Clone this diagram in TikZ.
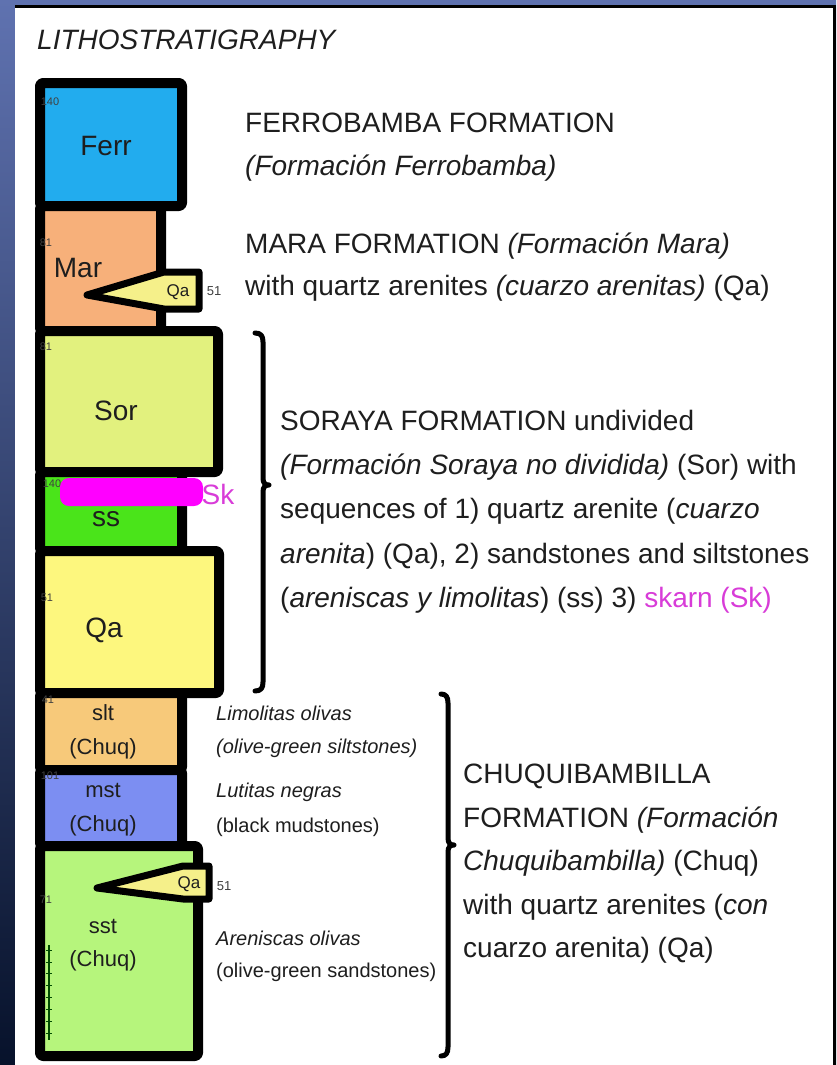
\documentclass[tikz,border=0pt]{standalone}
\usepackage{fontspec}
\setmainfont{Liberation Sans}
\definecolor{bgtop}{HTML}{5F72B0}
\definecolor{bgmid}{HTML}{143A8C}
\definecolor{bgbot}{HTML}{07122B}
\definecolor{txt}{HTML}{1E1E1E}
\definecolor{cferr}{HTML}{22ACEE}
\definecolor{cmar}{HTML}{F7B07A}
\definecolor{csor}{HTML}{E2F17E}
\definecolor{css}{HTML}{4AE41A}
\definecolor{cqa}{HTML}{FDF77E}
\definecolor{cslt}{HTML}{F7C97A}
\definecolor{cmst}{HTML}{7C8EF2}
\definecolor{csst}{HTML}{B6F57C}
\definecolor{cwedge}{HTML}{F5F08A}
\definecolor{cmag}{HTML}{FF00FF}
\definecolor{cmagtxt}{HTML}{D83CD8}
\begin{document}
\begin{tikzpicture}[x=1pt,y=-1pt,
  layer/.style={draw=black, line width=10pt, rounded corners=3pt, line join=round},
  wedge/.style={draw=black, line width=7pt, line join=round, fill=cwedge},
  brace/.style={draw=black, line width=5pt, line cap=round, line join=round},
  big/.style={font=\fontsize{28}{32}\selectfont, text=txt, inner sep=0pt, anchor=base west},
  small/.style={font=\fontsize{20}{24}\selectfont, text=txt, inner sep=0pt, anchor=base west},
  lbl/.style={font=\fontsize{28}{32}\selectfont, text=txt, inner sep=0pt},
  lbls/.style={font=\fontsize{22}{26}\selectfont, text=txt, inner sep=0pt},
  num/.style={font=\fontsize{11}{12}\selectfont, text=txt!85, inner sep=0pt}]
\useasboundingbox (0,0) rectangle (836,1065);
% background
\shade[top color=bgtop, middle color=bgmid, bottom color=bgbot] (0,0) rectangle (836,1065);
\fill[white] (15,8) rectangle (833,1065);
\draw[black, line width=3pt] (15,6.5) -- (834.5,6.5) -- (834.5,1065);

% title
\node[big, font=\fontsize{28}{32}\selectfont\itshape] (title) at (37,49) {LITHOSTRATIGRAPHY};

% column
\draw[layer, fill=cferr] (40,83) rectangle (182,206);
\draw[layer, fill=cmar] (40,206) rectangle (161,331);
\draw[layer, fill=csor] (40,331) rectangle (218,472);
\draw[layer, fill=css] (40,472) rectangle (182,551);
\draw[layer, fill=cqa] (40,551) rectangle (219,693);
\draw[layer, fill=cslt] (40,693) rectangle (182,770);
\draw[layer, fill=cmst] (40,770) rectangle (182,846);
\draw[layer, fill=csst] (40,846) rectangle (198,1056);

% wedges
\draw[wedge] (87,295) -- (164,272) -- (199,272) -- (199,309) -- (164,309) -- cycle;
\draw[wedge] (97,888) -- (183,866) -- (209,866) -- (209,899) -- (183,899) -- cycle;

% small numbers
\node[num] (n1) at (50,102) {140};
\node[num] (n2) at (46,243) {81};
\node[num] (n3) at (46,347) {81};
\node[num] (n4) at (52,484) {140};
\node[num] (n5) at (47,598) {51};
\node[num] (n6) at (48,700) {41};
\node[num] (n7) at (50,776) {101};
\node[num] (n8) at (46,900) {71};
\node[num, font=\fontsize{13}{14}\selectfont] (n9) at (214,291) {51};
\node[num, font=\fontsize{13}{14}\selectfont] (n10) at (224,886) {51};

% scale marks in sst
\draw[black!70!green, line width=1.2pt] (49,945) -- (49,1040);
\foreach \yy in {950,962,973,985,997,1009,1021,1033}
  \draw[black!70!green, line width=1pt] (46,\yy) -- (52,\yy);

% skarn bar
\fill[cmag, rounded corners=9pt] (60,478) rectangle (203,506);
\node[lbl, text=cmagtxt] (sk) at (218,494) {Sk};

% box labels
\node[lbl] (ferr) at (106,146) {Ferr};
\node[lbl] (mar) at (78,268) {Mar};
\node[font=\fontsize{17}{18}\selectfont, text=txt, inner sep=0pt] (qa1) at (178,292) {Qa};
\node[lbl] (sor) at (116,411) {Sor};
\node[lbl] (ss) at (106,519) {ss};
\node[lbl] (qa) at (104,630) {Qa};
\node[lbls] (slt) at (103,713) {slt};
\node[lbls] (sltc) at (103,749) {(Chuq)};
\node[lbls] (mst) at (103,790) {mst};
\node[lbls] (mstc) at (103,826) {(Chuq)};
\node[font=\fontsize{17}{18}\selectfont, text=txt, inner sep=0pt] (qa2) at (189,884) {Qa};
\node[lbls] (sst) at (103,926) {sst};
\node[lbls] (sstc) at (103,961) {(Chuq)};

% Ferrobamba text
\node[big] (f1) at (245,132) {FERROBAMBA FORMATION};
\node[big] (f2) at (245,175) {\itshape (Formación Ferrobamba)};
% Mara text
\node[big] (m1) at (245,253) {MARA FORMATION \textit{(Formación Mara)}};
\node[big] (m2) at (245,295) {with quartz arenites \textit{(cuarzo arenitas)} (Qa)};
% Soraya text
\node[big] (s1) at (280,430) {SORAYA FORMATION undivided};
\node[big] (s2) at (280,474) {\textit{(Formación Soraya no dividida)} (Sor) with};
\node[big] (s3) at (280,518) {sequences of 1) quartz arenite (\textit{cuarzo}};
\node[big] (s4) at (280,563) {\textit{arenita}) (Qa), 2) sandstones and siltstones};
\node[big] (s5) at (280,607) {(\textit{areniscas y limolitas}) (ss) 3) \textcolor{cmagtxt}{skarn (Sk)}};
% small labels
\node[small] (l1) at (216,720) {\itshape Limolitas olivas};
\node[small] (l2) at (216,753) {\itshape (olive-green siltstones)};
\node[small] (l3) at (216,797) {\itshape Lutitas negras};
\node[small] (l4) at (216,832) {(black mudstones)};
\node[small] (l5) at (216,945) {\itshape Areniscas olivas};
\node[small] (l6) at (216,977) {(olive-green sandstones)};
% Chuquibambilla text
\node[big] (c1) at (463,783) {CHUQUIBAMBILLA};
\node[big] (c2) at (463,827) {FORMATION \textit{(Formación}};
\node[big] (c3) at (463,870) {\textit{Chuquibambilla)} (Chuq)};
\node[big] (c4) at (463,914) {with quartz arenites (\textit{con}};
\node[big] (c5) at (463,957) {cuarzo arenita) (Qa)};

% braces
\draw[brace] (255,333) .. controls (261,333) and (263,336) .. (263,342) -- (263,478)
  .. controls (263,483) and (265,485) .. (269,485) .. controls (265,485) and (263,487) .. (263,492)
  -- (263,682) .. controls (263,688) and (261,691) .. (255,691);
\draw[brace] (441,694) .. controls (446,694) and (448,697) .. (448,703) -- (448,838)
  .. controls (448,843) and (450,845) .. (454,845) .. controls (450,845) and (448,847) .. (448,852)
  -- (448,1047) .. controls (448,1053) and (446,1056) .. (441,1056);
\end{tikzpicture}
\end{document}
